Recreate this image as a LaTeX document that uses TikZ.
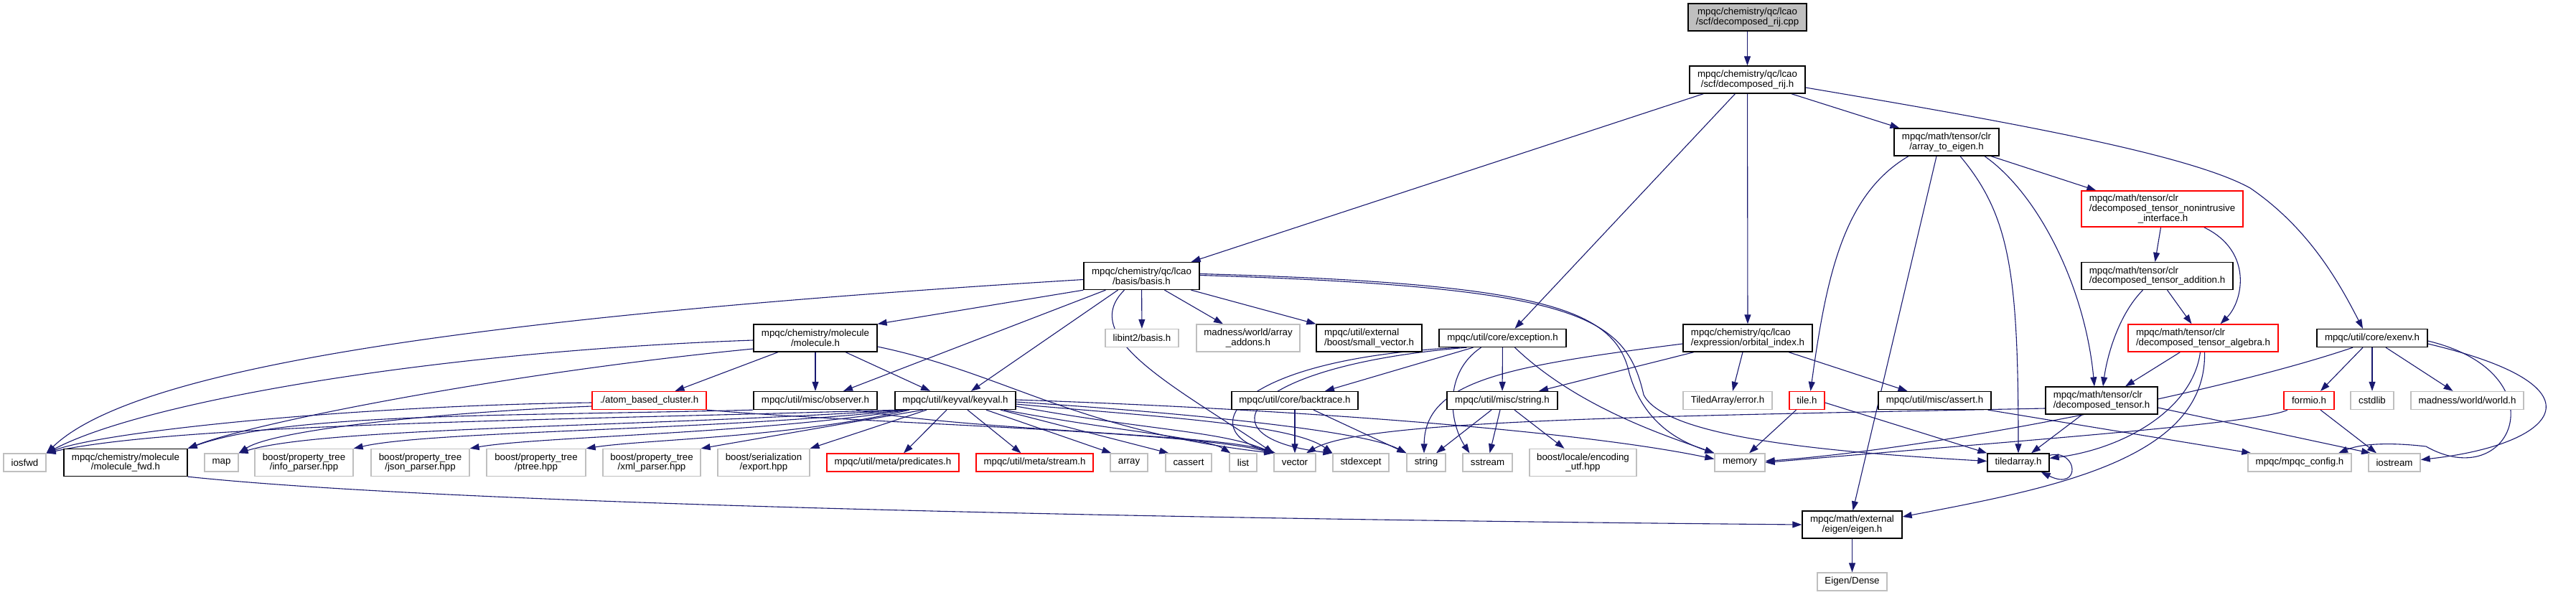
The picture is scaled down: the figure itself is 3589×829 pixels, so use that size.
\documentclass[tikz,border=0pt]{standalone}
\usepackage{fontspec}
\setmainfont{Liberation Sans}
\usetikzlibrary{arrows.meta}
\definecolor{edgec}{HTML}{191970}
\definecolor{grayc}{HTML}{BFBFBF}
\definecolor{rootc}{HTML}{BFBFBF}
\definecolor{redc}{HTML}{FF0000}
\pgfdeclarelayer{bg}
\pgfsetlayers{bg,main}
\newcommand\lbl{\fontsize{13.3}{13.8}\selectfont}
\begin{document}
\begin{tikzpicture}[x=1pt,y=-1pt,
 bx/.style={rectangle,inner sep=0pt,font=\lbl,align=center,fill=white,line width=1.3pt},
 blk/.style={bx,draw=black},
 gry/.style={bx,draw=grayc},
 rd/.style={bx,draw=redc},
 rt/.style={bx,draw=black,fill=rootc},
 lft/.style={align=left},
 dep/.style={draw=edgec,line width=1.1pt,-{Triangle[length=13pt,width=9pt]}},
 h1/.style={minimum height=25pt},
 h2/.style={minimum height=38pt}]
\useasboundingbox (0,0) rectangle (3589,829);
% nodes
\node[rt,h2,minimum width=165pt] (root) at (2434.5,24) {mpqc/chemistry/qc/lcao\\/scf/decomposed\_rij.cpp};
\node[blk,h2,minimum width=161pt] (rij) at (2434.5,111) {mpqc/chemistry/qc/lcao\\/scf/decomposed\_rij.h};
\node[blk,h2,minimum width=146pt] (a2e) at (2712,198) {mpqc/math/tensor/clr\\/array\_to\_eigen.h};
\node[rd,minimum height=50pt,minimum width=225pt,lft] (nonint) at (3012.5,291) {mpqc/math/tensor/clr\\/decomposed\_tensor\_nonintrusive\\\hspace*{68pt}\_interface.h};
\node[blk,h2,minimum width=211pt,lft] (addition) at (3005.5,384.5) {mpqc/math/tensor/clr\\/decomposed\_tensor\_addition.h};
\node[blk,h2,minimum width=161pt] (basis) at (1590.5,384.5) {mpqc/chemistry/qc/lcao\\/basis/basis.h};
\node[blk,h2,minimum width=172pt] (molecule) at (1136,471) {mpqc/chemistry/molecule\\/molecule.h};
\node[gry,h1,minimum width=102pt] (libint) at (1591,471) {libint2/basis.h};
\node[gry,h2,minimum width=144pt] (addons) at (1739,471) {madness/world/array\\\_addons.h};
\node[blk,h2,minimum width=147pt,lft] (smallvec) at (1907.5,471) {mpqc/util/external\\/boost/small\_vector.h};
\node[blk,h1,minimum width=177pt] (exception) at (2093.5,471) {mpqc/util/core/exception.h};
\node[blk,h2,minimum width=180pt,lft] (orbidx) at (2435,471) {mpqc/chemistry/qc/lcao\\/expression/orbital\_index.h};
\node[rd,h2,minimum width=209pt,lft] (algebra) at (3069.5,471) {mpqc/math/tensor/clr\\/decomposed\_tensor\_algebra.h};
\node[blk,h1,minimum width=154pt] (exenv) at (3305,471) {mpqc/util/core/exenv.h};
\node[rd,h1,minimum width=159pt] (atomcl) at (904.5,558) {./atom\_based\_cluster.h};
\node[blk,h1,minimum width=172pt] (observer) at (1136,558) {mpqc/util/misc/observer.h};
\node[blk,h1,minimum width=168pt] (keyval) at (1331,558) {mpqc/util/keyval/keyval.h};
\node[blk,h1,minimum width=176pt] (backtrace) at (1804,558) {mpqc/util/core/backtrace.h};
\node[blk,h1,minimum width=154pt] (strh) at (2093,558) {mpqc/util/misc/string.h};
\node[gry,h1,minimum width=124pt] (taerror) at (2407,558) {TiledArray/error.h};
\node[rd,h1,minimum width=49pt] (tileh) at (2517.5,558) {tile.h};
\node[blk,h1,minimum width=157pt] (assert) at (2695.5,558) {mpqc/util/misc/assert.h};
\node[blk,h2,minimum width=156pt,lft] (dtensor) at (2928,558) {mpqc/math/tensor/clr\\/decomposed\_tensor.h};
\node[rd,h1,minimum width=70pt] (formio) at (3217,558) {formio.h};
\node[gry,h1,minimum width=60pt] (cstdlib) at (3305,558) {cstdlib};
\node[gry,h1,minimum width=157pt] (world) at (3437.5,558) {madness/world/world.h};
\node[gry,h1,minimum width=59pt] (iosfwd) at (34.5,644.5) {iosfwd};
\node[blk,h2,minimum width=172pt] (molfwd) at (175,644.5) {mpqc/chemistry/molecule\\/molecule\_fwd.h};
\node[gry,h1,minimum width=47pt] (map) at (308.5,644.5) {map};
\node[gry,h2,minimum width=137pt] (info) at (423.5,644.5) {boost/property\_tree\\/info\_parser.hpp};
\node[gry,h2,minimum width=137pt] (json) at (585.5,644.5) {boost/property\_tree\\/json\_parser.hpp};
\node[gry,h2,minimum width=138pt] (ptree) at (747,644.5) {boost/property\_tree\\/ptree.hpp};
\node[gry,h2,minimum width=136pt] (xml) at (908,644.5) {boost/property\_tree\\/xml\_parser.hpp};
\node[gry,h2,minimum width=128pt] (export) at (1064,644.5) {boost/serialization\\/export.hpp};
\node[rd,h1,minimum width=184pt] (pred) at (1244,644.5) {mpqc/util/meta/predicates.h};
\node[rd,h1,minimum width=163pt] (stream) at (1441.5,644.5) {mpqc/util/meta/stream.h};
\node[gry,h1,minimum width=52pt] (array) at (1573,644.5) {array};
\node[gry,h1,minimum width=64pt] (cassert) at (1656,644.5) {cassert};
\node[gry,h1,minimum width=38pt] (list) at (1732,644.5) {list};
\node[gry,h1,minimum width=58pt] (vector) at (1804,644.5) {vector};
\node[gry,h1,minimum width=78pt] (stdexcept) at (1896,644.5) {stdexcept};
\node[gry,h1,minimum width=54pt] (string) at (1987,644.5) {string};
\node[gry,h1,minimum width=69pt] (sstream) at (2072.5,644.5) {sstream};
\node[gry,h2,minimum width=149pt] (utf) at (2205.5,644.5) {boost/locale/encoding\\\_utf.hpp};
\node[gry,h1,minimum width=70pt] (memory) at (2424,644.5) {memory};
\node[blk,h1,minimum width=86pt] (tiledarray) at (2812,644.5) {tiledarray.h};
\node[gry,h1,minimum width=144pt] (config) at (3204,644.5) {mpqc/mpqc\_config.h};
\node[gry,h1,minimum width=72pt] (iostream) at (3336,644.5) {iostream};
\node[blk,h2,minimum width=139pt] (eigen) at (2580.5,731) {mpqc/math/external\\/eigen/eigen.h};
\node[gry,h1,minimum width=97pt] (dense) at (2580.5,810.5) {Eigen/Dense};
\begin{pgfonlayer}{bg}
\fill[white] (0,0) rectangle (3589,829);
% top
\draw[dep] (root) -- (rij);
\draw[dep] ([xshift=20pt]rij.south west) -- ([xshift=-12pt]basis.north east);
\draw[dep] ([xshift=-17pt]rij.south) -- ([xshift=17pt]exception.north);
\draw[dep] (rij) -- (orbidx);
\draw[dep] ([xshift=-20pt]rij.south east) -- ([xshift=8pt]a2e.north west);
\draw[dep] ([yshift=-11pt]rij.east) .. controls (2800,170) and (3050,215) .. (3135,262) .. controls (3220,320) and (3262,400) .. ([xshift=-13pt]exenv.north);
% array_to_eigen
\draw[dep] ([xshift=62pt]a2e.south) -- ([xshift=21pt]nonint.north west);
\draw[dep] ([xshift=-53pt]a2e.south) .. controls (2570,270) and (2545,380) .. ([xshift=5pt]tileh.north);
\draw[dep] ([xshift=-14pt]a2e.south) -- ([xshift=1pt]eigen.north);
\draw[dep] ([xshift=19pt]a2e.south) .. controls (2800,300) and (2812,380) .. (tiledarray.north);
\draw[dep] ([xshift=53pt]a2e.south) .. controls (2840,270) and (2905,400) .. ([xshift=-10pt]dtensor.north);
% nonintrusive
\draw[dep] ([xshift=-2pt]nonint.south) -- ([xshift=-3pt]addition.north);
\draw[dep] ([xshift=58pt]nonint.south) .. controls (3140,350) and (3125,420) .. ([xshift=24pt]algebra.north);
% addition
\draw[dep] ([xshift=-20pt]addition.south) .. controls (2950,440) and (2935,500) .. ([xshift=2pt]dtensor.north);
\draw[dep] ([xshift=14pt]addition.south) -- ([xshift=-16pt]algebra.north);
% algebra
\draw[dep] ([xshift=-32pt]algebra.south) -- ([xshift=33pt]dtensor.north);
\draw[dep] ([xshift=-4pt]algebra.south) .. controls (3055,570) and (2960,625) .. ([yshift=6pt]tiledarray.east);
\draw[dep] ([xshift=2pt]algebra.south) .. controls (3075,640) and (2860,680) .. ([yshift=11pt]eigen.east);
% decomposed_tensor
\draw[dep] ([xshift=-27pt]dtensor.south) -- ([xshift=18pt]tiledarray.north);
\draw[dep] ([yshift=-10pt]dtensor.east) -- ([xshift=-33pt]iostream.north);
\draw[dep] ([yshift=-11pt]dtensor.west) .. controls (2300,580) and (1900,585) .. ([xshift=16pt]vector.north);
% exenv
\draw[dep] ([xshift=-27pt]exenv.south) .. controls (3100,545) and (2700,625) .. ([yshift=2pt]memory.east);
\draw[dep] ([xshift=-13pt]exenv.south) -- ([xshift=16pt]formio.north);
\draw[dep] (exenv) -- (cstdlib);
\draw[dep] ([xshift=19pt]exenv.south) -- ([xshift=-20pt]world.north);
\draw[dep] ([yshift=-4pt]exenv.east) .. controls (3570,520) and (3500,690) .. (3380,622) .. controls (3320,615) and (3285,620) .. ([xshift=54pt]config.north);
\draw[dep] ([yshift=-8pt]exenv.east) .. controls (3640,540) and (3560,620) .. ([yshift=4pt]iostream.east);
% formio
\draw[dep] ([xshift=-30pt]formio.south) .. controls (3150,590) and (2800,615) .. ([yshift=0pt]memory.east);
\draw[dep] ([xshift=16pt]formio.south) -- ([xshift=-25pt]iostream.north);
% tile.h
\draw[dep] ([xshift=-15pt]tileh.south) -- ([xshift=13pt]memory.north);
\draw[dep] ([yshift=-3pt]tileh.east) -- (tiledarray.north west);
\draw[dep] ([yshift=-3pt]tiledarray.north east) .. controls (2895,625) and (2900,685) .. ([xshift=-12pt]tiledarray.south east);
% assert
\draw[dep] ([xshift=-5pt]assert.south east) -- ([xshift=5pt]config.north west);
% orbital_index
\draw[dep] ([yshift=-8pt]orbidx.west) .. controls (2100,510) and (1985,530) .. ([xshift=-3pt]string.north);
\draw[dep] ([xshift=-75pt]orbidx.south) -- ([xshift=51pt]strh.north);
\draw[dep] ([xshift=-7pt]orbidx.south) -- ([xshift=7pt]taerror.north);
\draw[dep] ([xshift=57pt]orbidx.south) -- ([xshift=-38pt]assert.north);
% exception
\draw[dep] ([xshift=-41pt]exception.south) -- ([xshift=42pt]backtrace.north);
\draw[dep] ([xshift=-30pt]exception.south) .. controls (2010,520) and (2020,590) .. ([xshift=-25pt]sstream.north);
\draw[dep] (exception) -- (strh);
\draw[dep] ([xshift=17pt]exception.south) .. controls (2200,570) and (2330,610) .. (memory.north west);
\draw[dep] ([xshift=-60pt]exception.south) .. controls (1720,500) and (1660,600) .. ([xshift=3pt]vector.north west);
\draw[dep] ([xshift=-50pt]exception.south) .. controls (1730,510) and (1670,610) .. (stdexcept.north west);
% backtrace
\draw[dep] (backtrace) -- (vector);
\draw[dep] ([xshift=26pt]backtrace.south) -- (string.north west);
% string.h
\draw[dep] ([xshift=-15pt]strh.south) -- ([xshift=14pt]string.north);
\draw[dep] ([xshift=-3pt]strh.south) -- ([xshift=3pt]sstream.north);
\draw[dep] ([xshift=17pt]strh.south) -- ([xshift=-26pt]utf.north);
% basis
\draw[dep] ([yshift=-5pt]basis.west) .. controls (600,445) and (180,520) .. (iosfwd.north east);
\draw[dep] (basis.south west) -- (molecule.north east);
\draw[dep] ([xshift=-50pt]basis.south) -- ([xshift=39pt]observer.north);
\draw[dep] ([xshift=-33pt]basis.south) -- ([xshift=22pt]keyval.north);
\draw[dep] ([xshift=-24pt]basis.south) .. controls (1500,470) and (1640,540) .. (vector.north west);
\draw[dep] (basis) -- (libint);
\draw[dep] ([xshift=32pt]basis.south) -- ([xshift=-35pt]addons.north);
\draw[dep] ([xshift=69pt]basis.south) -- (smallvec.north west);
\draw[dep] ([yshift=3pt]basis.east) .. controls (2150,395) and (2250,430) .. (2270,520) .. controls (2290,590) and (2340,615) .. (memory.north west);
\draw[dep] ([yshift=1pt]basis.east) .. controls (2200,400) and (2265,440) .. (2290,550) .. controls (2320,610) and (2550,630) .. ([yshift=2pt]tiledarray.west);
% molecule
\draw[dep] ([yshift=-3pt]molecule.west) .. controls (600,490) and (200,560) .. (iosfwd.north east);
\draw[dep] ([yshift=-15pt]molecule.west) .. controls (700,520) and (350,590) .. (molfwd.north east);
\draw[dep] ([xshift=-52pt]molecule.south) -- ([xshift=36pt]atomcl.north);
\draw[dep] (molecule) -- (observer);
\draw[dep] ([xshift=42pt]molecule.south) -- ([xshift=-35pt]keyval.north);
\draw[dep] ([yshift=-12pt]molecule.east) .. controls (1400,520) and (1500,600) .. (vector.north west);
% atom_based_cluster
\draw[dep] ([yshift=-3pt]atomcl.west) .. controls (500,565) and (150,600) .. (iosfwd.north east);
\draw[dep] ([yshift=-8pt]atomcl.west) .. controls (600,575) and (380,600) .. (map.north east);
\draw[dep] (atomcl.south east) .. controls (1200,590) and (1650,600) .. (vector.north west);
% observer
\draw[dep] (observer.south west) .. controls (700,580) and (400,575) .. (molfwd.north east);
\draw[dep] ([xshift=57pt]observer.south) .. controls (1350,600) and (1700,605) .. (vector.north west);
% keyval
\draw[dep] ([xshift=-80pt]keyval.south) .. controls (800,585) and (250,590) .. (iosfwd.north east);
\draw[dep] ([xshift=-75pt]keyval.south) .. controls (900,595) and (450,595) .. (map.north east);
\draw[dep] ([xshift=-70pt]keyval.south) .. controls (1000,600) and (600,600) .. (info.north east);
\draw[dep] ([xshift=-67pt]keyval.south) .. controls (1050,605) and (750,608) .. (json.north east);
\draw[dep] ([xshift=-64pt]keyval.south) .. controls (1100,610) and (900,612) .. (ptree.north east);
\draw[dep] ([xshift=-45pt]keyval.south) -- (xml.north east);
\draw[dep] ([xshift=-40pt]keyval.south) -- (export.north east);
\draw[dep] ([xshift=-12pt]keyval.south) -- ([xshift=15pt]pred.north);
\draw[dep] ([xshift=17pt]keyval.south) -- ([xshift=-19pt]stream.north);
\draw[dep] ([xshift=43pt]keyval.south) -- ([xshift=2pt]array.north west);
\draw[dep] ([xshift=63pt]keyval.south) -- ([xshift=5pt]cassert.north west);
\draw[dep] ([xshift=68pt]keyval.south) .. controls (1550,600) and (1680,610) .. ([xshift=2pt]list.north west);
\draw[dep] ([yshift=-8pt]keyval.east) .. controls (1600,600) and (1700,600) .. (vector.north west);
\draw[dep] ([yshift=-5pt]keyval.east) .. controls (1600,580) and (1800,590) .. (stdexcept.north west);
\draw[dep] ([yshift=-2pt]keyval.east) .. controls (1650,575) and (1900,600) .. (string.north west);
\draw[dep] ([yshift=1pt]keyval.east) .. controls (1800,570) and (2200,600) .. ([yshift=5pt]memory.west);
% eigen
\draw[dep] (molfwd.south east) .. controls (600,700) and (1500,722) .. (eigen.west);
\draw[dep] (eigen) -- (dense);
\end{pgfonlayer}
\end{tikzpicture}
\end{document}
